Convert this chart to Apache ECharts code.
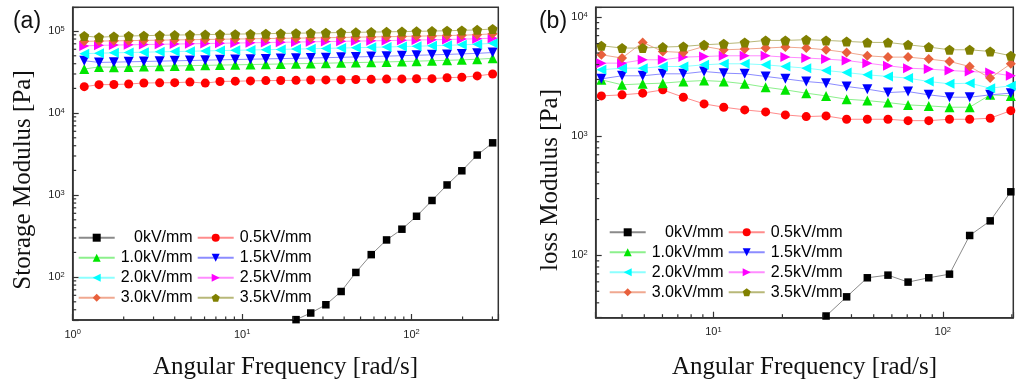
<!DOCTYPE html>
<html><head><meta charset="utf-8">
<script src="https://cdn.jsdelivr.net/npm/echarts@6/dist/echarts.min.js"></script>
<style>html,body{margin:0;padding:0;background:#fff}#c{width:1024px;height:386px}</style>
</head><body><div id="c"></div>
<script>
// ---------- data ----------
const seriesNames = ['0kV/mm','0.5kV/mm','1.0kV/mm','1.5kV/mm','2.0kV/mm','2.5kV/mm','3.0kV/mm','3.5kV/mm'];

// (a) storage modulus
const freqA = [1.17,1.43,1.75,2.14,2.63,3.26,4.00,4.92,6.06,7.40,9.11,11.2,13.8,16.9,20.8,25.4,31.2,38.4,46.9,57.8,71.2,87.7,107,132,162,198,244,301];
const storage00 = [null,null,null,null,null,null,null,null,null,null,null,null,null,null,30.3,36.5,46,66.8,114,188,284,384,552,860,1330,1980,3080,4340];
const storage05 = [21000,22200,22300,22600,23300,23400,23500,23900,23200,24300,24500,24700,24900,25000,25100,25300,25400,25500,25700,25800,26000,26100,26200,26300,27000,27400,28400,30000];
const storage10 = [34500,36500,36300,36600,37000,37300,37600,37900,38200,38500,38800,39100,39400,39700,40000,40300,40600,41000,41300,41700,42100,42500,43000,43500,44000,44600,45400,46500];
const storage15 = [43500,41500,41800,42200,42600,43000,43400,43800,44200,44600,45000,45400,45800,46200,46600,47000,47400,47900,48400,48900,49500,50100,50700,51300,52000,52700,53500,54800];
const storage20 = [53000,53800,54300,54800,55300,55800,56300,56800,57300,57800,58300,58800,59300,59800,60300,60900,61500,62100,62700,63300,64000,64700,65400,66200,67000,68000,69200,71000];
const storage25 = [66000,67000,67500,68000,68500,69000,69500,70000,70500,71000,71500,72000,72500,73000,73500,74000,74500,75000,75500,76000,76600,77200,77800,78400,79000,79800,80600,82000];
const storage30 = [75000,75500,76000,76500,77000,77500,78000,78500,79000,79500,80000,80500,81000,81500,82000,82500,83000,83600,84200,84800,85400,86000,86700,87400,88200,89000,90500,92500];
const storage35 = [87000,84000,86000,87000,88000,88700,89400,90000,90600,91200,91800,92400,93000,93600,94200,94800,95400,96000,96600,97200,97900,98600,99300,100000,101000,102000,103500,106000];

// (b) loss modulus
const freqB = [3.25,4.00,4.92,6.02,7.40,9.11,11.1,13.7,16.9,20.6,25.4,31.0,38.1,46.9,57.7,70.6,86.9,107,131,161,198];
const loss00 = [null,null,null,null,null,null,null,null,null,null,null,31,44.9,64.9,68.3,59.7,64.9,69.6,147,195,342];
const loss05 = [2183,2228,2302,2453,2128,1871,1754,1665,1602,1511,1463,1482,1390,1390,1390,1353,1353,1390,1390,1418,1642];
const loss10 = [2978,2705,2757,2793,2882,2937,2882,2757,2583,2453,2302,2183,2047,1993,1918,1834,1800,1754,1754,2228,2183];
const loss15 = [3035,3220,3220,3345,3345,3497,3390,3345,3178,3035,2882,2793,2619,2488,2329,2373,2228,2128,2128,2228,2302];
const loss20 = [3614,3733,3733,3853,3853,3982,4060,4060,3982,3853,3733,3566,3427,3280,3178,3078,2882,2757,2793,2535,2650];
const loss25 = [4112,4112,4385,4385,4620,4675,4740,4740,4740,4620,4539,4447,4327,4112,3908,3733,3664,3566,3497,3427,3220];
const loss30 = [4830,4539,6137,5152,5054,5680,5323,5396,5504,5610,5504,5323,5054,4740,4620,4620,4447,4250,3853,3078,4060];
const loss35 = [5754,5504,5504,5610,5680,5865,5978,6137,6380,6380,6470,6380,6258,6137,6137,5865,5610,5323,5323,5152,4740];

// axis ranges
const xRangeA = [1, 325], yRangeA = [30, 195000];
const xRangeB = [3.07, 203], yRangeB = [30, 12100];
const minorMultipliers = [2,3,4,5,6,7,8,9];

// ---------- styles ----------
const markerColors = ['#000000','#ff0000','#00e600','#0000ff','#00ffff','#ff00ff','#e8603c','#808000'];
const lineColors = ['#8a8a8a','#ff8c8c','#8cf08c','#8c8cff','#8cffff','#ff8cff','#f0a890','#b8b878'];
const pentagon = 'path://M0,-1 L0.951,-0.309 L0.588,0.809 L-0.588,0.809 L-0.951,-0.309 Z';
const symbols = ['rect','circle','triangle','triangle','triangle','triangle','diamond',pentagon];
const rotations = [0,0,0,180,90,-90,0,0];
const sizes = [7.5,9,10,10,10,10,10,10];

const setA = [storage00,storage05,storage10,storage15,storage20,storage25,storage30,storage35];
const setB = [loss00,loss05,loss10,loss15,loss20,loss25,loss30,loss35];

function zip(xs, ys){ return xs.map((x,i)=>[x, ys[i]==null ? null : ys[i]]).map(p=> p[1]==null ? [p[0], '-'] : p); }

function makeSeries(set, xs, idx){
  return set.map((vals,i)=>({
    name: seriesNames[i], type:'line', xAxisIndex:idx, yAxisIndex:idx,
    data: zip(xs, vals), symbol: symbols[i], symbolRotate: rotations[i], symbolSize: sizes[i],
    showAllSymbol: true, connectNulls:false,
    itemStyle:{color: markerColors[i]}, lineStyle:{color: lineColors[i], width:1},
    emphasis:{disabled:true}, animation:false, z: 3 + i*0.01
  }));
}

function minorValues(lo, hi){
  const out = [];
  for (let e = Math.floor(Math.log10(lo)); e <= Math.ceil(Math.log10(hi)); e++){
    minorMultipliers.forEach(m=>{ const v = m*Math.pow(10,e); if (v > lo*1.0001 && v < hi*0.9999) out.push(v); });
  }
  return out;
}
function tickData(xr, yr){
  const d = [];
  minorValues(xr[0], xr[1]).forEach(v=>d.push([v, yr[0], 0]));
  minorValues(yr[0], yr[1]).forEach(v=>d.push([xr[0], v, 1]));
  return d;
}
function tickSeries(xr, yr, idx){
  return {
    type:'custom', xAxisIndex:idx, yAxisIndex:idx, silent:true, clip:false, z:10, animation:false,
    data: tickData(xr, yr), encode:{x:0, y:1},
    renderItem:(params, api)=>{
      const p = api.coord([api.value(0), api.value(1)]);
      const k = api.value(2);
      const shape = k === 0 ? {x1:p[0], y1:p[1], x2:p[0], y2:p[1]-3.5} : {x1:p[0], y1:p[1], x2:p[0]+3.5, y2:p[1]};
      return {type:'line', shape, style:{stroke:'#333', lineWidth:1.2}};
    }
  };
}

function powLabel(v){
  const e = Math.round(Math.log10(v));
  if (Math.abs(v/Math.pow(10,e) - 1) < 1e-6) return '{b|10}{s|' + e + '}';
  return '';
}
const labelRich = {
  b:{fontSize:11, fontFamily:'Arial, "Liberation Sans"', color:'#222', lineHeight:13},
  s:{fontSize:7.5, fontFamily:'Arial, "Liberation Sans"', color:'#222', lineHeight:13, verticalAlign:'top'}
};
const axisLineStyle = {show:true, lineStyle:{color:'#333', width:1.5}};
function logAxis(range, idx){
  return {
    type:'log', logBase:10, gridIndex:idx, min:range[0], max:range[1],
    axisLine: axisLineStyle,
    axisTick:{show:true, inside:true, length:6, lineStyle:{color:'#333', width:1.2}},
    minorTick:{show:false}, splitLine:{show:false},
    axisLabel:{formatter: powLabel, rich: labelRich, margin: 8, showMinLabel:true, showMaxLabel:true}
  };
}

function legendAt(left, top){
  return {
    left, top, orient:'horizontal', width:240, padding:0, itemGap:4, itemWidth:36, itemHeight:10,
    data: seriesNames, selectedMode:false,
    formatter: n => '{t|' + n + '}',
    textStyle:{rich:{t:{width:73, align:'right', fontSize:16, lineHeight:16, fontFamily:'Arial, "Liberation Sans"', color:'#000'}}}
  };
}

const titleFont = {fontSize:25, fontFamily:'"Times New Roman", "Liberation Serif", serif', fill:'#111'};
function txt(text, x, y, rot, font){
  return {type:'text', x, y, rotation: rot || 0, silent:true,
    style: Object.assign({text, align:'center', verticalAlign:'middle'}, font)};
}

const chart = echarts.init(document.getElementById('c'), null, {renderer:'canvas'});
chart.setOption({
  backgroundColor:'#fff',
  animation:false,
  grid:[
    {left:72.7, top:7.3, width:425.6, height:312.7, show:true, borderColor:'#333', borderWidth:1.5, containLabel:false},
    {left:595.7, top:7.3, width:417.6, height:310.4, show:true, borderColor:'#333', borderWidth:1.5, containLabel:false}
  ],
  xAxis:[logAxis(xRangeA,0), logAxis(xRangeB,1)],
  yAxis:[logAxis(yRangeA,0), logAxis(yRangeB,1)],
  legend:[legendAt(77.7, 229.7), legendAt(608.7, 224.3)],
  series: [].concat(makeSeries(setA, freqA, 0), makeSeries(setB, freqB, 1), [tickSeries(xRangeA, yRangeA, 0), tickSeries(xRangeB, yRangeB, 1)]),
  graphic:[
    txt('(a)', 27, 22, 0, {fontSize:23, fontFamily:'Arial, "Liberation Sans"', fill:'#111'}),
    txt('(b)', 553, 22, 0, {fontSize:23, fontFamily:'Arial, "Liberation Sans"', fill:'#111'}),
    txt('Storage Modulus [Pa]', 23, 180, Math.PI/2, titleFont),
    txt('loss Modulus [Pa]', 550, 180, Math.PI/2, titleFont),
    txt('Angular Frequency [rad/s]', 285.5, 367, 0, titleFont),
    txt('Angular Frequency [rad/s]', 804.5, 367, 0, titleFont)
  ]
});
</script>
</body></html>
